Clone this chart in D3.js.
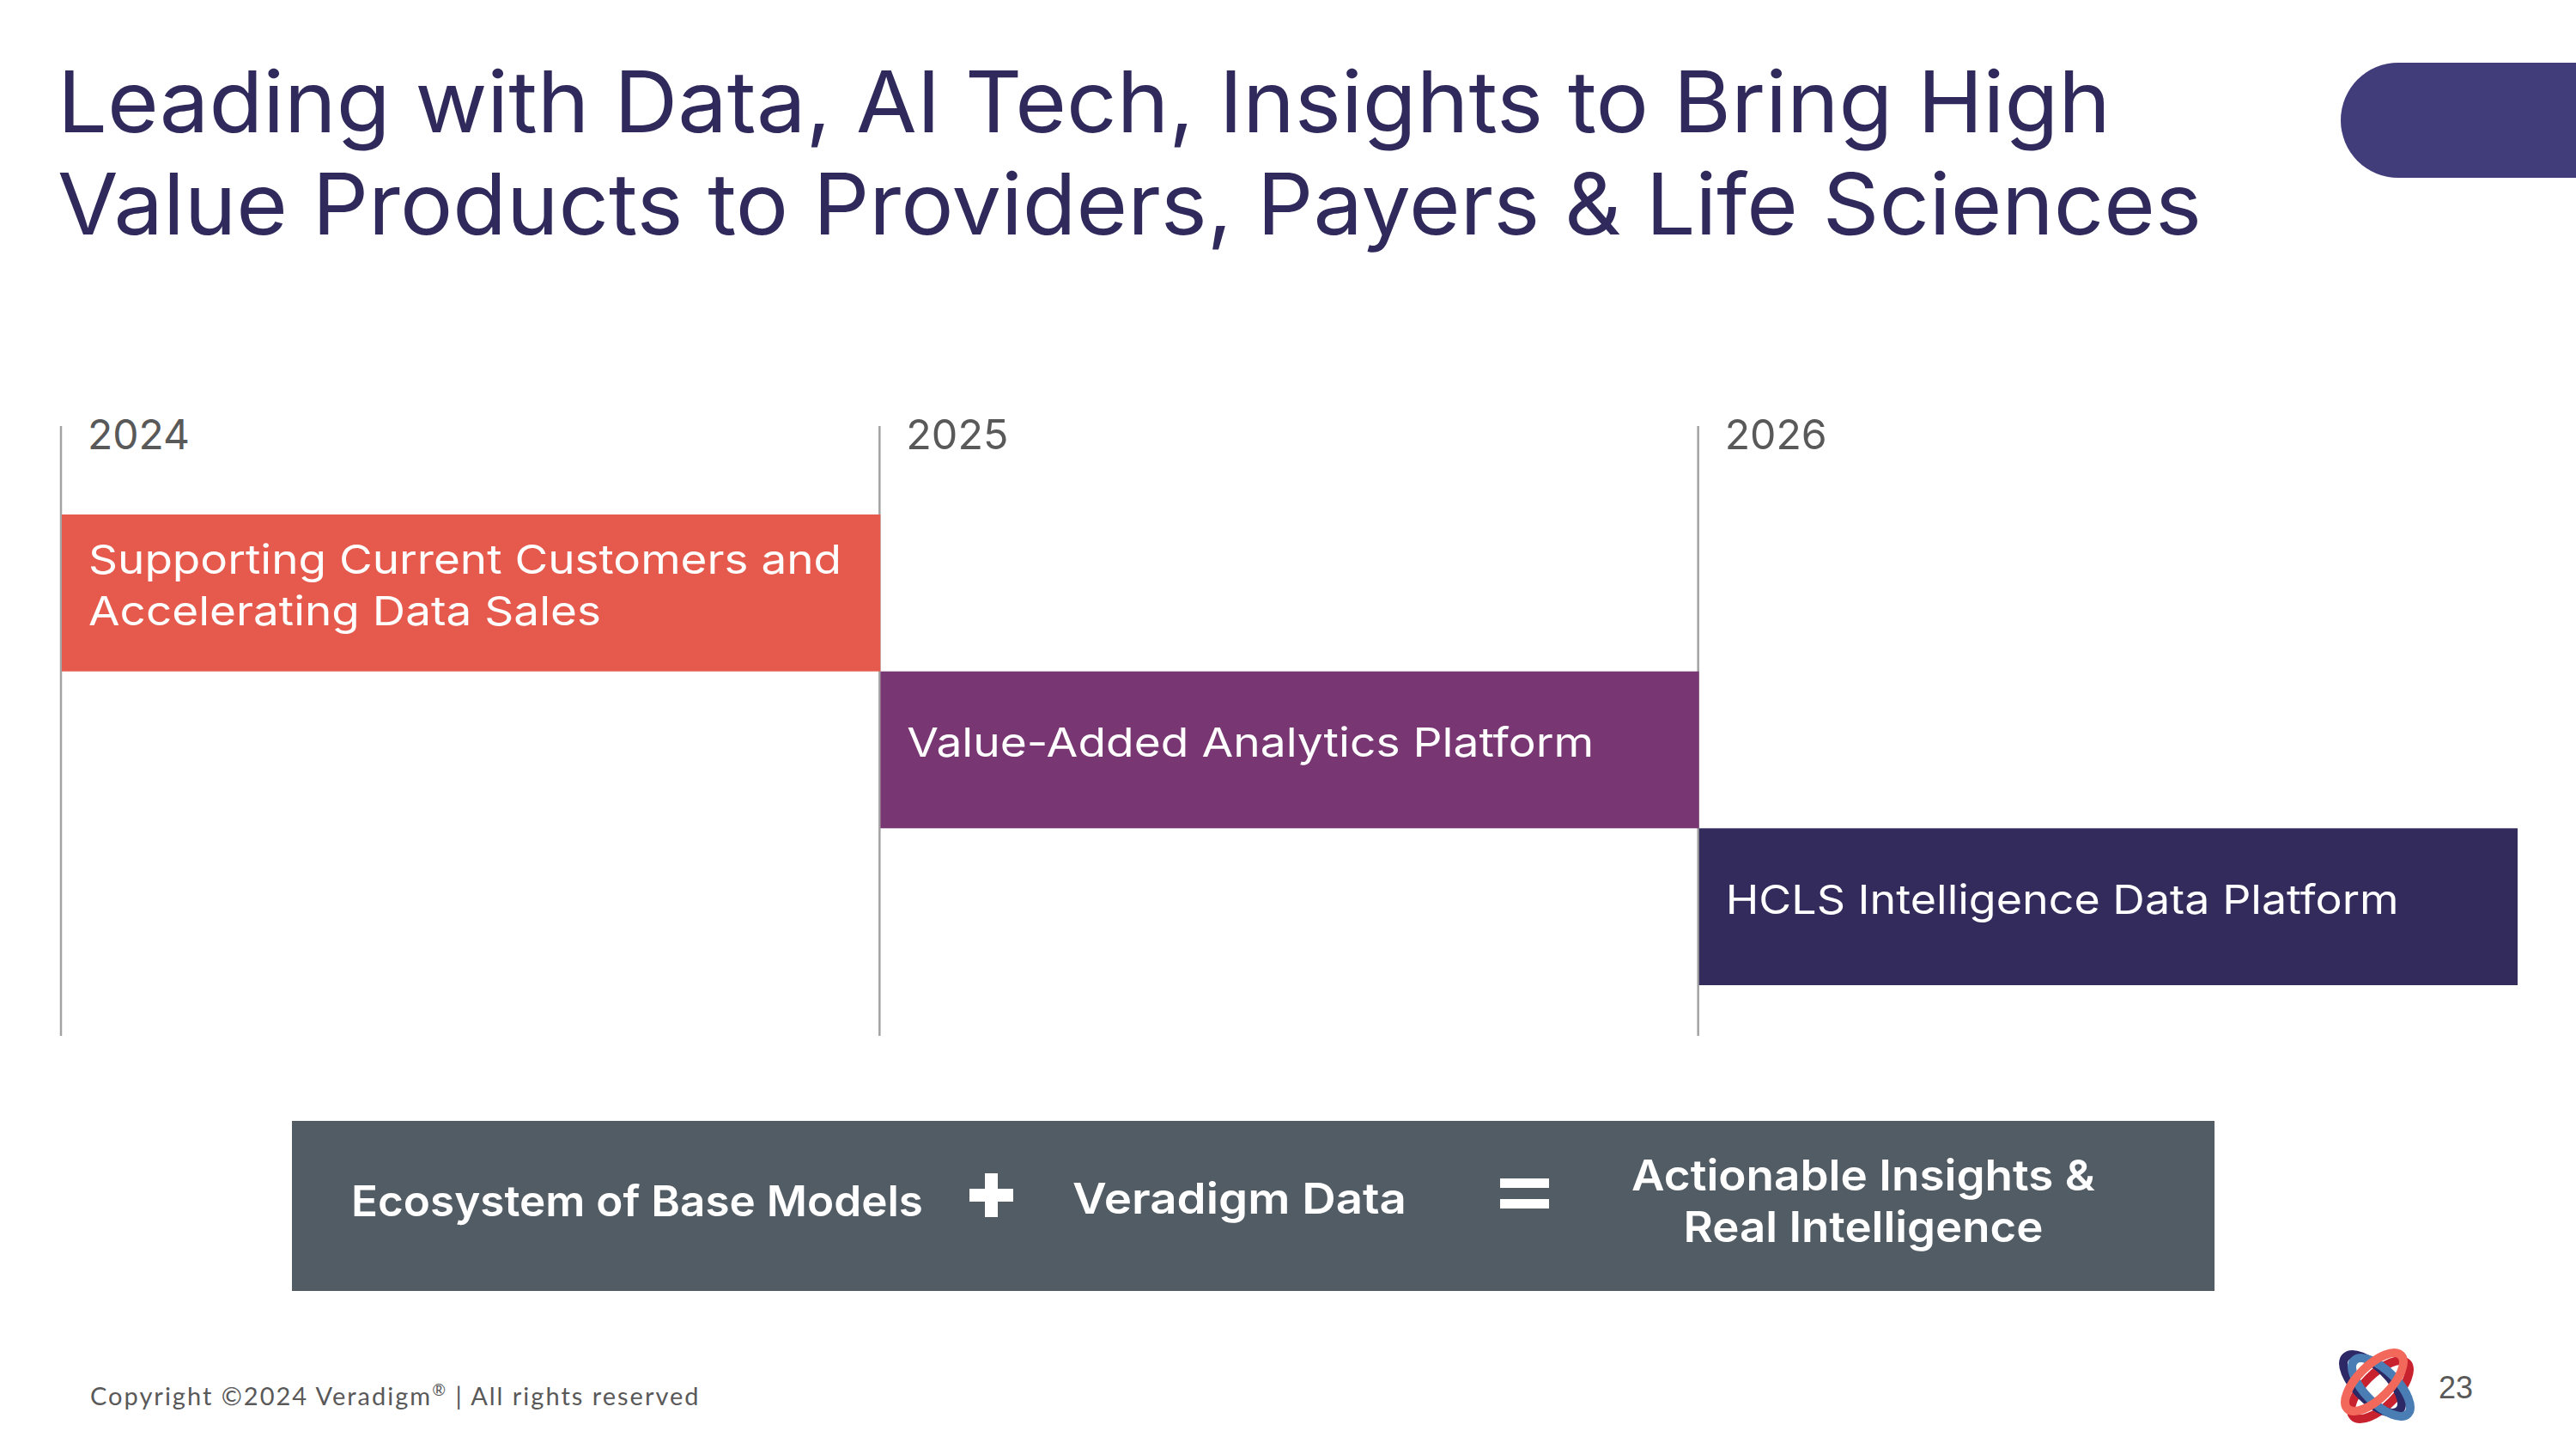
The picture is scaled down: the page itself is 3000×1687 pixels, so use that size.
<!DOCTYPE html>
<html>
<head>
<meta charset="utf-8">
<script src="https://cdn.jsdelivr.net/npm/d3@7"></script>
<style>
  html, body { margin: 0; padding: 0; background: #ffffff; }
  svg { display: block; }
</style>
</head>
<body>
<svg id="chart" width="3000" height="1687"></svg>
<script>
// ---------------- DATA ----------------
const titleLines = [
  "Leading with Data, AI Tech, Insights to Bring High",
  "Value Products to Providers, Payers & Life Sciences"
];
const years = ["2024", "2025", "2026"];
const phaseNames = [
  "Supporting Current Customers and Accelerating Data Sales",
  "Value-Added Analytics Platform",
  "HCLS Intelligence Data Platform"
];
const phaseLines = [
  ["Supporting Current Customers and", "Accelerating Data Sales"],
  ["Value-Added Analytics Platform"],
  ["HCLS Intelligence Data Platform"]
];
const phaseStart = ["2024", "2025", "2026"];
const equationTerms = ["Ecosystem of Base Models", "Veradigm Data"];
const equationResult = ["Actionable Insights &", "Real Intelligence"];
const operators = ["+", "="];
const footerText = "Copyright \u00A92024 Veradigm";
const footerSup = "\u00AE";
const footerRest = " | All rights reserved";
const pageNumber = "23";

// ---------------- STYLE ----------------
const phaseColors = ["#e55a4d", "#783673", "#332b5b"];
const FONT = "Inter, 'Open Sans', sans-serif";

const svg = d3.select("#chart");

// Title
const titleWidths = [2391, 2497];
svg.selectAll("text.title").data(titleLines).join("text")
  .attr("class", "title")
  .attr("x", 67)
  .attr("y", (d, i) => 154 + i * 119)
  .attr("font-family", FONT)
  .attr("font-size", 99)
  .attr("font-weight", 400)
  .attr("fill", "#2f2a5b")
  .attr("textLength", (d, i) => titleWidths[i])
  .attr("lengthAdjust", "spacingAndGlyphs")
  .text(d => d);

// Top-right pill
svg.append("rect")
  .attr("x", 2726).attr("y", 73)
  .attr("width", 400).attr("height", 134)
  .attr("rx", 67).attr("ry", 67)
  .attr("fill", "#413d7b");

// ---------------- TIMELINE ----------------
const x = d3.scaleBand().domain(years).range([71, 2931]).paddingInner(0).paddingOuter(0);
const y = d3.scaleBand().domain(phaseNames).range([599, 1147]).padding(0);

// vertical year lines
svg.selectAll("line.yr").data(years).join("line")
  .attr("class", "yr")
  .attr("x1", d => x(d)).attr("x2", d => x(d))
  .attr("y1", 496).attr("y2", 1206)
  .attr("stroke", "#a3a3a3")
  .attr("stroke-width", 2.5);

// year labels
svg.selectAll("text.yrlab").data(years).join("text")
  .attr("class", "yrlab")
  .attr("x", d => x(d) + 31)
  .attr("y", 523)
  .attr("font-family", FONT)
  .attr("font-size", 48)
  .attr("fill", "#595959")
  .attr("textLength", 119)
  .attr("lengthAdjust", "spacingAndGlyphs")
  .text(d => d);

// phase bars
const phases = phaseNames.map((n, i) => ({ name: n, lines: phaseLines[i], start: phaseStart[i], color: phaseColors[i] }));
svg.selectAll("rect.phase").data(phases).join("rect")
  .attr("class", "phase")
  .attr("x", d => x(d.start) + 1)
  .attr("y", d => y(d.name))
  .attr("width", x.bandwidth())
  .attr("height", y.bandwidth())
  .attr("fill", d => d.color);

const lineWidths = {
  "Supporting Current Customers and": 877,
  "Accelerating Data Sales": 597,
  "Value-Added Analytics Platform": 800,
  "HCLS Intelligence Data Platform": 784
};
phases.forEach(p => {
  const n = p.lines.length;
  const cy = y(p.name) + y.bandwidth() / 2 + 8;
  svg.selectAll(null).data(p.lines).join("text")
    .attr("x", x(p.start) + 32)
    .attr("y", (d, i) => cy + (i - (n - 1) / 2) * 60)
    .attr("font-family", FONT)
    .attr("font-size", 47)
    .attr("fill", "#ffffff")
    .attr("textLength", d => lineWidths[d])
    .attr("lengthAdjust", "spacingAndGlyphs")
    .text(d => d);
});

// ---------------- EQUATION BOX ----------------
svg.append("rect")
  .attr("x", 340).attr("y", 1305)
  .attr("width", 2239).attr("height", 198)
  .attr("fill", "#525c64");

const termPos = [{ x: 409, w: 666, y: 1416 }, { x: 1249, w: 389, y: 1413 }];
svg.selectAll("text.term").data(equationTerms).join("text")
  .attr("class", "term")
  .attr("x", (d, i) => termPos[i].x)
  .attr("y", (d, i) => termPos[i].y)
  .attr("font-family", FONT)
  .attr("font-size", 50)
  .attr("font-weight", 600)
  .attr("fill", "#ffffff")
  .attr("textLength", (d, i) => termPos[i].w)
  .attr("lengthAdjust", "spacingAndGlyphs")
  .text(d => d);

const resW = [540, 419];
svg.selectAll("text.res").data(equationResult).join("text")
  .attr("class", "res")
  .attr("x", 2170)
  .attr("y", (d, i) => 1386 + i * 60)
  .attr("text-anchor", "middle")
  .attr("font-family", FONT)
  .attr("font-size", 50)
  .attr("font-weight", 600)
  .attr("fill", "#ffffff")
  .attr("textLength", (d, i) => resW[i])
  .attr("lengthAdjust", "spacingAndGlyphs")
  .text(d => d);

// plus sign
const plus = svg.append("g").attr("fill", "#ffffff").attr("class", "op").datum(operators[0]);
plus.append("rect").attr("x", 1129).attr("y", 1384).attr("width", 51).attr("height", 15);
plus.append("rect").attr("x", 1147).attr("y", 1366).attr("width", 15).attr("height", 51);
// equals sign
const eq = svg.append("g").attr("fill", "#ffffff").attr("class", "op").datum(operators[1]);
eq.append("rect").attr("x", 1747).attr("y", 1372).attr("width", 57).attr("height", 11);
eq.append("rect").attr("x", 1747).attr("y", 1396).attr("width", 57).attr("height", 11);

// ---------------- FOOTER ----------------
const ft = svg.append("text")
  .attr("x", 105).attr("y", 1636)
  .attr("font-family", "Lato, 'Noto Sans', sans-serif")
  .attr("font-size", 29)
  .attr("fill", "#595959")
  .attr("letter-spacing", 2);
ft.append("tspan").text(footerText);
ft.append("tspan").attr("font-size", 19).attr("dy", -11).text(footerSup);
ft.append("tspan").attr("dy", 11).text(footerRest);

svg.append("text")
  .attr("x", 2840).attr("y", 1628)
  .attr("font-family", "'Liberation Sans', Arial, sans-serif")
  .attr("font-size", 36)
  .attr("fill", "#595959")
  .text(pageNumber);

// logo (interlocking rings)
const logo = svg.append("g").attr("transform", "translate(2768,1613)");
const rings = [
  { c: "#c9222f", rot: -45, dx: 4, dy: 5 },
  { c: "#2d2966", rot: 45, dx: -5, dy: -2 },
  { c: "#4a7db3", rot: 45, dx: 5, dy: 2 },
  { c: "#f2685a", rot: -45, dx: -3, dy: -4 }
];
logo.selectAll("ellipse").data(rings).join("ellipse")
  .attr("cx", 0).attr("cy", 0)
  .attr("rx", 44).attr("ry", 19)
  .attr("transform", d => `translate(${d.dx},${d.dy}) rotate(${d.rot})`)
  .attr("fill", "none")
  .attr("stroke", d => d.c)
  .attr("stroke-width", 10);
</script>
</body>
</html>
